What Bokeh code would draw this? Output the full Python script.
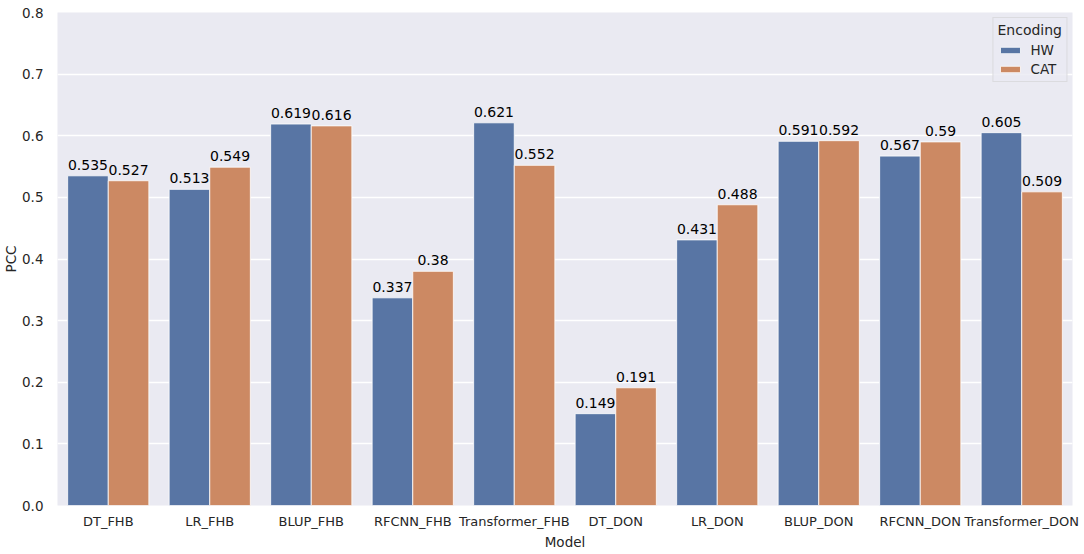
from bokeh.plotting import figure
from bokeh.models import ColumnDataSource, FactorRange, Range1d, FixedTicker, PrintfTickFormatter, LabelSet, Legend, LegendItem
from bokeh.transform import dodge
from bokeh.core.properties import value
from bokeh.embed import file_html
from bokeh.resources import INLINE

models = ["DT_FHB", "LR_FHB", "BLUP_FHB", "RFCNN_FHB", "Transformer_FHB",
          "DT_DON", "LR_DON", "BLUP_DON", "RFCNN_DON", "Transformer_DON"]
hw = [0.535, 0.513, 0.619, 0.337, 0.621, 0.149, 0.431, 0.591, 0.567, 0.605]
cat = [0.527, 0.549, 0.616, 0.38, 0.552, 0.191, 0.488, 0.592, 0.59, 0.509]
y_ticks = [0.0, 0.1, 0.2, 0.3, 0.4, 0.5, 0.6, 0.7, 0.8]

HW_COLOR = "#5875A4"
CAT_COLOR = "#CC8963"
FONT = "DejaVu Sans"
TXT = "#262626"

src = ColumnDataSource(dict(
    model=models, hw=hw, cat=cat,
    hw_txt=[str(v) for v in hw], cat_txt=[str(v) for v in cat],
))

p = figure(width=1084, height=554, output_backend="svg", toolbar_location=None,
           x_range=FactorRange(*models, range_padding=0), y_range=Range1d(0, 0.8),
           min_border_left=57, min_border_right=12, min_border_top=12, min_border_bottom=49)

p.background_fill_color = "#EAEAF2"
p.border_fill_color = "white"
p.outline_line_color = None

r_hw = p.vbar(x=dodge("model", -0.2, range=p.x_range), top="hw", width=0.4, source=src,
              fill_color=HW_COLOR, line_color="white", line_width=0.8)
r_cat = p.vbar(x=dodge("model", 0.2, range=p.x_range), top="cat", width=0.4, source=src,
               fill_color=CAT_COLOR, line_color="white", line_width=0.8)

for col, off in (("hw", -0.2), ("cat", 0.2)):
    lbl = LabelSet(x=dodge("model", off, range=p.x_range), y=col, text=col + "_txt", source=src,
                   text_align="center", text_baseline="alphabetic", y_offset=6,
                   text_font=value(FONT), text_font_size=value("14px"), text_color="black")
    p.add_layout(lbl)

p.xgrid.grid_line_color = None
p.ygrid.grid_line_color = "white"
p.ygrid.grid_line_width = 1.3
p.yaxis.ticker = FixedTicker(ticks=y_ticks)
p.yaxis.formatter = PrintfTickFormatter(format="%.1f")

for ax in (p.xaxis[0], p.yaxis[0]):
    ax.axis_line_color = None
    ax.major_tick_line_color = None
    ax.minor_tick_line_color = None
    ax.major_tick_out = 0
    ax.major_tick_in = 0
    ax.major_label_text_font = FONT
    ax.major_label_text_font_size = "13px"
    ax.major_label_text_color = TXT
    ax.axis_label_text_font = FONT
    ax.axis_label_text_font_size = "13.5px"
    ax.axis_label_text_font_style = "normal"
    ax.axis_label_text_color = TXT

p.yaxis.major_label_text_font_size = "13.5px"
p.xaxis.axis_label = "Model"
p.yaxis.axis_label = "PCC"
p.xaxis.major_label_standoff = 8
p.xaxis.axis_label_standoff = 2
p.yaxis.major_label_standoff = 14
p.yaxis.axis_label_standoff = 0

legend = Legend(items=[LegendItem(label="HW", renderers=[r_hw]),
                       LegendItem(label="CAT", renderers=[r_cat])],
                location="top_right", title="Encoding")
legend.title_text_font = FONT
legend.title_text_font_size = "14px"
legend.title_text_font_style = "normal"
legend.title_text_color = TXT
legend.label_text_font = FONT
legend.label_text_font_size = "13.5px"
legend.label_text_color = TXT
legend.background_fill_color = "#EAEAF2"
legend.background_fill_alpha = 0.8
legend.border_line_color = "#CCCCCC"
legend.border_line_width = 1
legend.glyph_width = 25
legend.glyph_height = 8
legend.label_height = 14
legend.label_standoff = 8
legend.spacing = 3
legend.padding = 4
legend.margin = 5
legend.title_standoff = 4
p.add_layout(legend)

open("out.html", "w").write(file_html(p, INLINE))
